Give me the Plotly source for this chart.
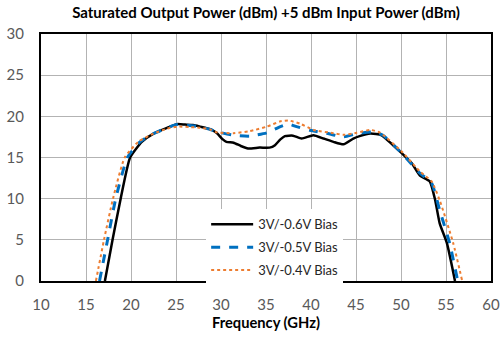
import plotly.graph_objects as go

freq_06 = [17.1, 17.95, 18.85, 19.9, 21.2, 22.5, 24.0, 25.1, 26.0, 26.9, 27.7, 28.8, 29.5, 30.2, 30.6, 31.4, 32.2, 33.0, 34.3, 35.4, 36.0, 36.6, 37.1, 38.0, 38.96, 40.26, 41.4, 42.5, 43.6, 44.7, 45.4, 46.6, 47.85, 49.1, 50.3, 51.2, 52.1, 53.2, 53.8, 54.3, 55.1, 56.0]
pout_06 = [0, 5, 10, 15, 16.9, 17.9, 18.6, 19.05, 19.0, 18.95, 18.75, 18.45, 18.0, 17.2, 16.9, 16.8, 16.4, 16.1, 16.2, 16.2, 16.5, 17.2, 17.6, 17.65, 17.3, 17.7, 17.3, 16.9, 16.6, 17.3, 17.6, 17.9, 17.7, 16.5, 15.3, 14.3, 12.8, 12.1, 9.8, 7.0, 4.6, 0]

freq_05 = [16.5, 17.4, 18.3, 19.6, 21.0, 22.5, 24.0, 25.1, 26.5, 27.7, 28.8, 29.5, 31.4, 33.2, 35.1, 36.6, 37.5, 38.4, 39.9, 41.7, 43.6, 45.1, 46.9, 48.0, 50.1, 52.1, 53.4, 54.3, 55.4, 56.3]
pout_05 = [0, 5, 10, 15, 16.9, 17.9, 18.6, 19.0, 18.9, 18.7, 18.4, 18.15, 17.7, 17.6, 18.0, 18.75, 19.07, 18.75, 18.3, 17.95, 17.5, 17.9, 18.1, 17.7, 15.5, 13.1, 11.9, 8.6, 4.6, 0]

freq_04 = [16.1, 17.0, 18.0, 19.3, 20.8, 22.5, 24.0, 25.1, 26.5, 27.7, 28.8, 29.5, 31.4, 33.2, 35.1, 36.6, 37.5, 38.8, 40.3, 42.5, 43.6, 45.1, 46.6, 47.7, 50.1, 52.1, 53.4, 54.3, 55.8, 56.8]
pout_04 = [0, 5, 10, 15, 16.9, 17.9, 18.5, 18.75, 18.7, 18.6, 18.4, 18.05, 17.95, 18.2, 18.75, 19.4, 19.5, 19.1, 18.35, 17.95, 17.75, 18.0, 18.35, 18.0, 15.7, 13.3, 12.1, 9.8, 4.6, 0]

names = ["3V/-0.6V Bias", "3V/-0.5V Bias", "3V/-0.4V Bias"]
title = "Saturated Output Power (dBm) +5 dBm Input Power (dBm)"
x_title = "Frequency (GHz)"

FONT = "Lato, Open Sans, sans-serif"

fig = go.Figure()
fig.add_trace(go.Scatter(x=freq_06, y=pout_06, name=names[0], mode="lines",
                         line=dict(color="black", width=2.5, shape="spline", smoothing=0.5),
                         legendgroup="a"))
fig.add_trace(go.Scatter(x=freq_05, y=pout_05, name=names[1], mode="lines",
                         line=dict(color="#0070C0", width=3, dash="dash", shape="spline", smoothing=0.5),
                         legendgroup="b"))
fig.add_trace(go.Scatter(x=freq_04, y=pout_04, name=names[2], mode="lines",
                         line=dict(color="#ED7D31", width=2, dash="dot", shape="spline", smoothing=0.5),
                         legendgroup="c"))

fig.update_layout(
    width=503, height=341,
    margin=dict(l=41, r=12, t=34, b=60, autoexpand=False),
    paper_bgcolor="white", plot_bgcolor="white",
    font=dict(family=FONT, size=15, color="#595959"),
    title=dict(text="<b>" + title + "</b>", xref="paper", x=0.5, xanchor="center", y=0.978, yanchor="top",
               font=dict(family=FONT, size=15, color="black")),
    legend=dict(x=0.367, y=0.29, xanchor="left", yanchor="top", bgcolor="white", itemwidth=42,
                font=dict(family=FONT, size=13, color="#262626"), tracegroupgap=3),
    showlegend=True,
)
fig.update_xaxes(range=[10, 60], dtick=5, showgrid=True, gridcolor="#b3b3b3", gridwidth=1,
                 showline=True, linecolor="black", linewidth=2, mirror=True, zeroline=False,
                 ticks="", ticklabelstandoff=9, tickfont=dict(size=15), automargin=False,
                 title=dict(text="<b>" + x_title + "</b>", font=dict(family=FONT, size=14.7, color="black"),
                            standoff=3))
fig.update_yaxes(range=[0, 30], dtick=5, showgrid=True, gridcolor="#b3b3b3", gridwidth=1,
                 showline=True, linecolor="black", linewidth=2, mirror=True, zeroline=False,
                 ticks="", ticklabelstandoff=12, tickfont=dict(size=15), automargin=False)

fig.write_html("out.html")
